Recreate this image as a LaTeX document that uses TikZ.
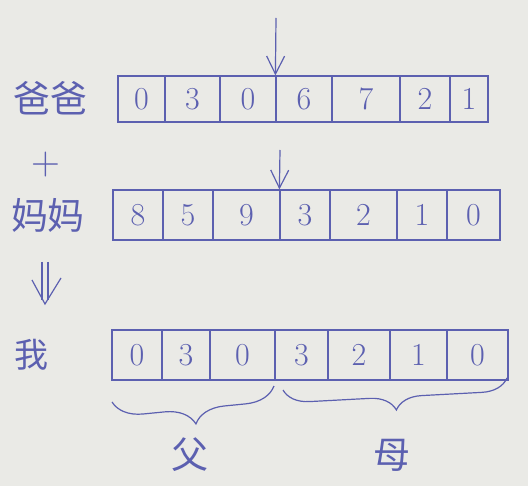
\documentclass[tikz,border=0pt]{standalone}
\usepackage{fontspec}
\newfontfamily\cjk{Noto Sans CJK SC}
\usetikzlibrary{arrows.meta,decorations.pathreplacing}
\definecolor{ink}{HTML}{5C60B0}
\definecolor{paper}{HTML}{EAEAE6}
\begin{document}
\begin{tikzpicture}[x=1pt,y=-1pt,
  pen/.style={draw=ink, line width=1.2pt},
  cell/.style={pen, text=ink, inner sep=0pt, font=\fontsize{32}{32}\selectfont},
  lbl/.style={text=ink, inner sep=0pt, font=\cjk\fontsize{37}{37}\selectfont},
  conn/.style={pen, -{Straight Barb[length=18pt,width=18pt,line width=1.2pt]}},
  brc/.style={pen, decorate, decoration={brace, mirror, amplitude=#1}}]
\fill[paper] (0,0) rectangle (528,486);
\useasboundingbox (0,0) rectangle (528,486);
% row 1
\node[lbl] (ba) at (50,98) {爸爸};
\node[cell, minimum width=47, minimum height=46] (a1) at (141.5,99) {0};
\node[cell, minimum width=55, minimum height=46] (a2) at (192.5,99) {3};
\node[cell, minimum width=56, minimum height=46] (a3) at (248,99) {0};
\node[cell, minimum width=56, minimum height=46] (a4) at (304,99) {6};
\node[cell, minimum width=68, minimum height=46] (a5) at (366,99) {7};
\node[cell, minimum width=50, minimum height=46] (a6) at (425,99) {2};
\node[cell, minimum width=38, minimum height=46] (a7) at (469,99) {1};
\coordinate (p1) at (276,18);
\draw[conn] (p1) -- (a4.north west);
% plus
\node[text=ink, inner sep=0pt, font=\fontsize{40}{40}\selectfont] (plus) at (46,165) {+};
% row 2
\node[lbl] (ma) at (48,215) {妈妈};
\node[cell, minimum width=50, minimum height=50] (b1) at (138,215) {8};
\node[cell, minimum width=50, minimum height=50] (b2) at (188,215) {5};
\node[cell, minimum width=67, minimum height=50] (b3) at (246.5,215) {9};
\node[cell, minimum width=50, minimum height=50] (b4) at (305,215) {3};
\node[cell, minimum width=67, minimum height=50] (b5) at (363.5,215) {2};
\node[cell, minimum width=50, minimum height=50] (b6) at (422,215) {1};
\node[cell, minimum width=53, minimum height=50] (b7) at (473.5,215) {0};
\coordinate (p2) at (280,150);
\draw[conn] (p2) -- (b4.north west);
% double arrow
\draw[pen] (42,262) -- (42,300) (48,262) -- (48,300);
\draw[pen] (32,280) -- (45,304) -- (61,278);
% row 3
\node[lbl, font=\cjk\fontsize{34}{34}\selectfont] (wo) at (32,355) {我};
\node[cell, minimum width=50, minimum height=50] (c1) at (137,355) {0};
\node[cell, minimum width=48, minimum height=50] (c2) at (186,355) {3};
\node[cell, minimum width=65, minimum height=50] (c3) at (242.5,355) {0};
\node[cell, minimum width=53, minimum height=50] (c4) at (301.5,355) {3};
\node[cell, minimum width=62, minimum height=50] (c5) at (359,355) {2};
\node[cell, minimum width=57, minimum height=50] (c6) at (418.5,355) {1};
\node[cell, minimum width=61, minimum height=50] (c7) at (477.5,355) {0};
% braces
\coordinate (f1) at (112,402);
\coordinate (f2) at (274,386);
\coordinate (m1) at (283,390);
\coordinate (m2) at (507,378);
\draw[brc=30] (f1) -- (f2);
\draw[brc=26] (m1) -- (m2);
\node[lbl] (fu) at (190,455) {父};
\node[lbl] (mu) at (392,455) {母};
\end{tikzpicture}
\end{document}
